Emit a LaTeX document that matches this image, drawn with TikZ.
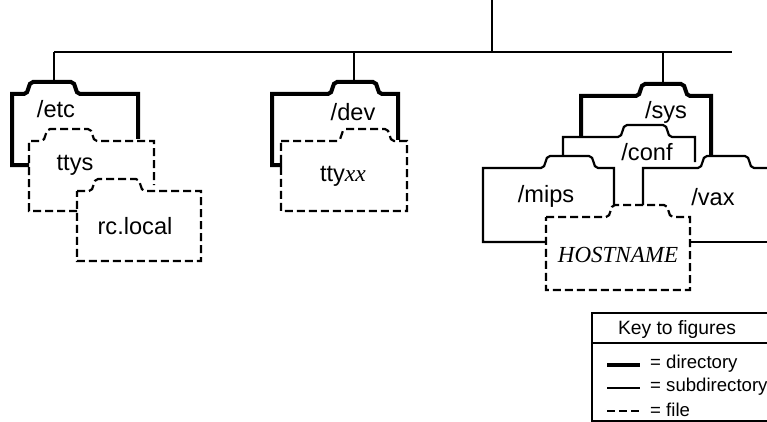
\documentclass[tikz,border=0pt]{standalone}
\usepackage{fontspec}
\setmainfont{Liberation Sans}
\newfontfamily\timesfont{Liberation Serif}
\usetikzlibrary{positioning}
\newcommand{\foldertab}[1]{.. controls +(6,0) and +(-6,0) .. ++(9,-12) -- ++(#1,0) .. controls +(6,0) and +(-6,0) .. ++(9,12)}
\tikzset{
    dirline/.style={line width=4pt, draw=black, line join=miter},
    subline/.style={line width=2.2pt, draw=black},
    fileline/.style={line width=2.2pt, draw=black, dash pattern=on 8pt off 4pt},
    keyline/.style={line width=1.8pt, draw=black},
    label/.style={font=\fontsize{23.6}{23.6}\selectfont, inner sep=0pt, text=black},
    keylabel/.style={font=\fontsize{18.6}{18.6}\selectfont, inner sep=0pt, anchor=west, text=black}
}
\begin{document}
\begin{tikzpicture}[x=1pt, y=-1pt]
    \clip (0,0) rectangle (767,422);

    % main tree
    \coordinate (top) at (492,0);
    \coordinate (busjoin) at (492,52);
    \coordinate (busleft) at (54,52);
    \coordinate (busright) at (732,52);
    \coordinate (etctab) at (54,82);
    \coordinate (devjoin) at (354,52);
    \coordinate (devtab) at (354,82);
    \coordinate (sysjoin) at (663,52);
    \coordinate (systab) at (663,83);
    \draw[subline] (top) -- (busjoin);
    \draw[subline] (busleft) -- (busright);
    \draw[subline] (busleft) -- (etctab);
    \draw[subline] (devjoin) -- (devtab);
    \draw[subline] (sysjoin) -- (systab);

    % /etc
    \draw[dirline] (29,165) -- (12,165) -- (12,94) -- (24,94) \foldertab{38} -- (138,94) -- (138,139);
    \node[label] (etc) at (56,109) {/etc};
    \draw[fileline] (77,211) -- (29,211) -- (29,141) -- (41,141) \foldertab{38} -- (154,141) -- (154,185);
    \node[label] (ttys) at (75,165) {ttys};
    \draw[fileline] (77,191) -- (89,191) \foldertab{38} -- (201,191) -- (201,261) -- (77,261) -- cycle;
    \node[label] (rclocal) at (135,226) {rc.local};

    % /dev
    \draw[dirline] (282,165) -- (272,165) -- (272,94) -- (328,94) \foldertab{36} -- (398,94) -- (398,140);
    \node[label] (dev) at (353,112) {/dev};
    \draw[fileline] (281,141) -- (337,141) \foldertab{39} -- (407,141) -- (407,211) -- (281,211) -- cycle;
    \node[label] (ttyxx) at (343,176) {tty{\timesfont\itshape xx}};

    % /sys
    \draw[dirline] (581,137) -- (581,96) -- (636,96) \foldertab{36} -- (711,96) -- (711,157);
    \node[label] (sys) at (666,112) {/sys};
    \draw[subline] (563,156) -- (563,137) -- (618,137) \foldertab{36} -- (695,137) -- (695,162);
    \node[label] (conf) at (647,152) {/conf};
    \draw[subline] (546,242) -- (483,242) -- (483,168) -- (541,168) \foldertab{39} -- (614,168) -- (614,205);
    \node[label] (mips) at (546,196) {/mips};
    \draw[subline] (643,205) -- (643,168) -- (698,168) \foldertab{38} -- (767,168);
    \draw[subline] (690,242) -- (767,242);
    \node[label] (vax) at (713,197) {/vax};
    \draw[fileline] (546,217) -- (606,217) \foldertab{49} -- (690,217) -- (690,290) -- (546,290) -- cycle;
    \node[label, font=\timesfont\itshape\fontsize{23}{23}\selectfont] (hostname) at (618,255) {HOSTNAME};

    % key
    \coordinate (keytl) at (592,313);
    \coordinate (keytr) at (767,313);
    \coordinate (keyml) at (592,343);
    \coordinate (keymr) at (767,343);
    \coordinate (keybl) at (592,421);
    \coordinate (keybr) at (767,421);
    \draw[keyline] (keytr) -- (keytl) -- (keybl) -- (keybr);
    \draw[keyline] (keyml) -- (keymr);
    \node[label, font=\fontsize{19.3}{19.3}\selectfont] (keytitle) at (677,330) {Key to figures};
    \coordinate (dirstart) at (607,365);
    \coordinate (dirend) at (640,365);
    \coordinate (substart) at (607,388);
    \coordinate (subend) at (640,388);
    \coordinate (filestart) at (607,411);
    \coordinate (fileend) at (640,411);
    \draw[dirline] (dirstart) -- (dirend);
    \draw[subline] (substart) -- (subend);
    \draw[fileline] (filestart) -- (fileend);
    \node[keylabel] (keydir) at (650,364) {= directory};
    \node[keylabel] (keysub) at (650,387) {= subdirectory};
    \node[keylabel] (keyfile) at (650,410) {= file};
\end{tikzpicture}
\end{document}
